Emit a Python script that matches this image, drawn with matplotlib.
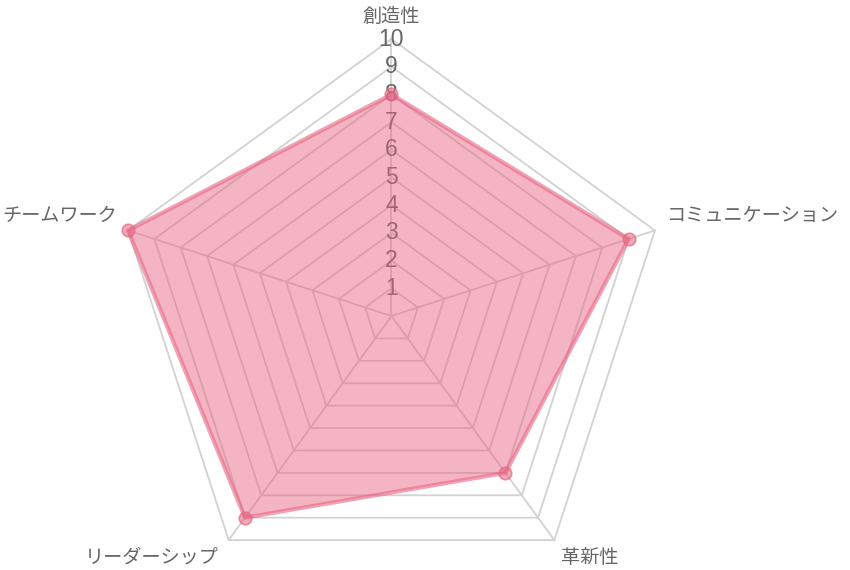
import numpy as np
import matplotlib
matplotlib.use('Agg')
import matplotlib.pyplot as plt

categories = ['創造性', 'コミュニケーション', '革新性', 'リーダーシップ', 'チームワーク']
values = [8, 9, 7, 9, 10]
ticks = [1, 2, 3, 4, 5, 6, 7, 8, 9, 10]
r_max = 10

plt.rcParams['font.family'] = ['Noto Sans CJK JP', 'DejaVu Sans']

W, H = 850, 570
fig = plt.figure(figsize=(W / 100, H / 100), dpi=100)
cx, cy, R = 391.5, 254.0, 277.0
ax = fig.add_axes([(cx - R) / W, (cy - R) / H, 2 * R / W, 2 * R / H], projection='polar')
ax.set_theta_offset(np.pi / 2)
ax.set_theta_direction(-1)
ax.set_ylim(0, r_max)
ax.set_axis_off()

n = len(categories)
theta = np.linspace(0, 2 * np.pi, n, endpoint=False)
tc = np.append(theta, theta[0])

grid_color = '#d2d2d2'
for t in ticks:
    ax.plot(tc, [t] * (n + 1), color=grid_color, lw=1.3, zorder=1, clip_on=False)
for th in theta:
    ax.plot([th, th], [0, r_max], color=grid_color, lw=1.3, zorder=1, clip_on=False)

for t in ticks:
    ax.text(0, t, str(t), ha='center', va='center', fontsize=16.5, color='#666666',
            family=['Liberation Sans', 'DejaVu Sans'], zorder=2)

base = (232 / 255, 100 / 255, 130 / 255)
vc = np.append(values, values[0])
ax.fill(tc, vc, color=base, alpha=0.48, lw=0, zorder=3, clip_on=False)
ax.plot(tc, vc, color=base + (0.6,), lw=3.0, zorder=4, clip_on=False)
ax.plot(theta, values, 'o', ms=9, mfc=base + (0.55,), mec=base + (0.7,), mew=1.2,
        zorder=5, clip_on=False)

label_style = [
    dict(ha='center', off=(0, 23)),
    dict(ha='left', off=(12, 15)),
    dict(ha='left', off=(7, -17)),
    dict(ha='right', off=(-10, -16.5)),
    dict(ha='right', off=(-11, 15)),
]
for th, lab, st in zip(theta, categories, label_style):
    ax.annotate(lab, xy=(th, r_max), xycoords='data', xytext=st['off'],
                textcoords='offset pixels', ha=st['ha'], va='center',
                fontsize=13.8, color='#666666', annotation_clip=False)

fig.savefig('out.png', dpi=100)
